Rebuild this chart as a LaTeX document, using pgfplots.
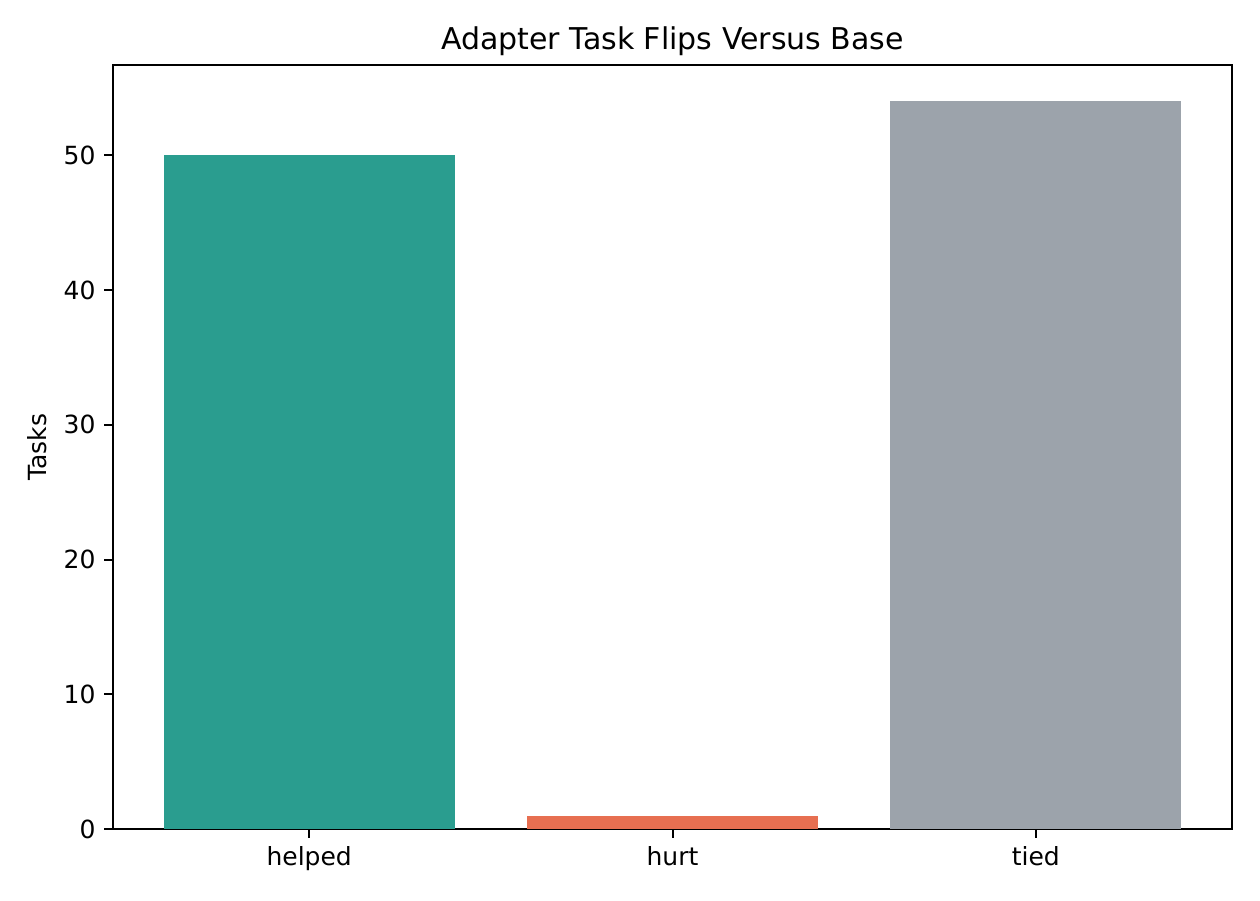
\documentclass[border=0pt]{standalone}
\usepackage{pgfplots}
\pgfplotsset{compat=1.18}
\usepackage{fontspec}
\setmainfont{DejaVu Sans}
\definecolor{cHelped}{HTML}{2A9D8F}
\definecolor{cHurt}{HTML}{E76F51}
\definecolor{cTied}{HTML}{9CA3AB}
\begin{document}
\begin{tikzpicture}
\useasboundingbox (-45.2pt,-28.4pt) rectangle (458.8pt,331.6pt);
\begin{axis}[
  at={(0,0)}, anchor=south west,
  scale only axis,
  width=447.6pt, height=305.6pt,
  xmin=-0.54, xmax=2.54,
  ymin=0, ymax=56.7,
  xtick={0,1,2},
  xticklabels={helped,hurt,tied},
  ytick={0,10,20,30,40,50},
  tick align=outside,
  tick pos=lower,
  major tick length=3.5pt,
  axis line style={line width=0.8pt},
  every tick/.style={black, line width=0.8pt},
  tick label style={font=\fontsize{10}{12}\selectfont},
  /pgf/number format/assume math mode=true,
  ylabel={Tasks},
  ylabel style={font=\fontsize{10}{12}\selectfont},
  title={Adapter Task Flips Versus Base},
  title style={font=\fontsize{12}{14}\selectfont, yshift=-5.8pt},
  ybar, bar width=0.8, bar shift=0pt,
]
\addplot[fill=cHelped, draw=none] coordinates {(0,50)};
\addplot[fill=cHurt, draw=none] coordinates {(1,1)};
\addplot[fill=cTied, draw=none] coordinates {(2,54)};
\end{axis}
\end{tikzpicture}
\end{document}
